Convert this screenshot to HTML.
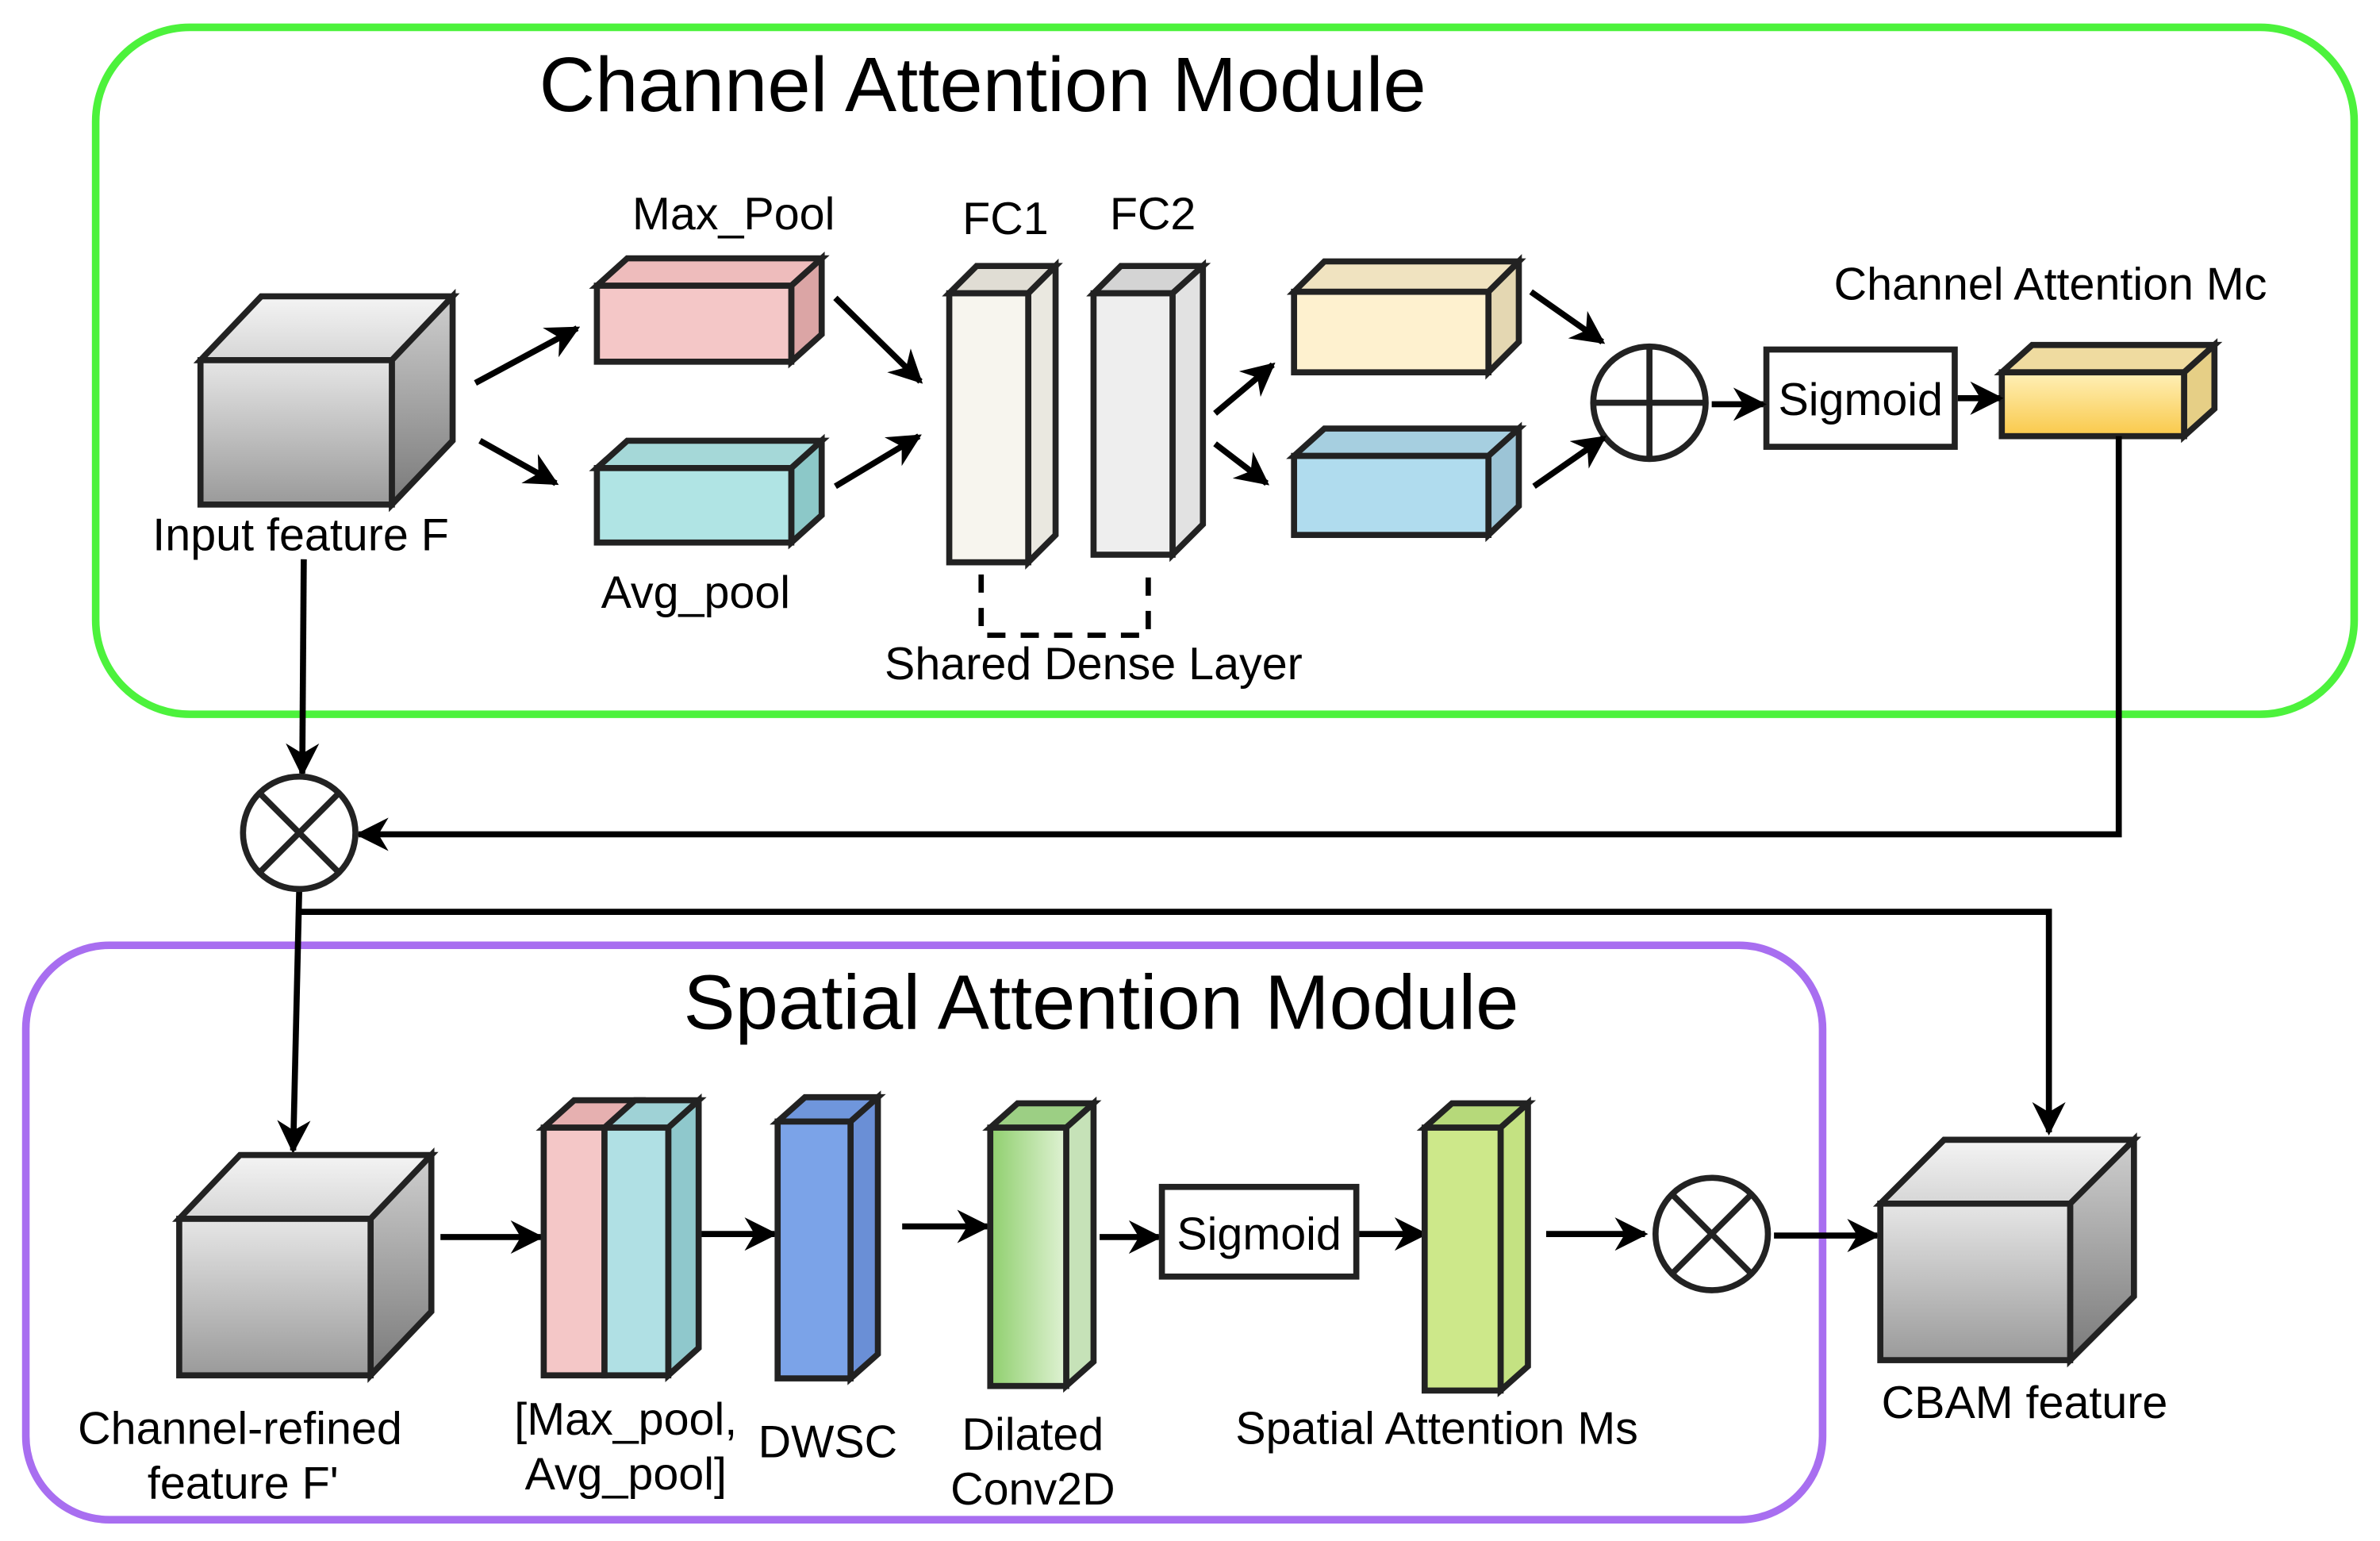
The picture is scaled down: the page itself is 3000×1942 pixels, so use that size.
<!DOCTYPE html>
<html><head><meta charset="utf-8"><style>html,body{margin:0;padding:0;background:#fff}svg{display:block}text{font-family:"Liberation Sans",sans-serif;fill:#000}</style></head>
<body>
<svg width="3000" height="1942" viewBox="0 0 1567 1014" preserveAspectRatio="none" xmlns="http://www.w3.org/2000/svg">
<defs>
<marker id="b" viewBox="0 0 10 10" refX="9" refY="5" markerWidth="22" markerHeight="22" orient="auto" markerUnits="userSpaceOnUse"><path d="M0,0 L10,5 L0,10 L3,5 Z" fill="#000"/></marker>
<linearGradient id="g" x1="0" y1="0" x2="0" y2="1"><stop offset="0" stop-color="#e6e6e6"/><stop offset="1" stop-color="#9a9a9a"/></linearGradient>
<linearGradient id="gs" x1="0" y1="0" x2="0" y2="1"><stop offset="0" stop-color="#cfcfcf"/><stop offset="1" stop-color="#7a7a7a"/></linearGradient>
<linearGradient id="gt" x1="0" y1="0" x2="0" y2="1"><stop offset="0" stop-color="#f4f4f4"/><stop offset="1" stop-color="#d6d6d6"/></linearGradient>
<linearGradient id="gy" x1="0" y1="0" x2="0" y2="1"><stop offset="0" stop-color="#fff0b8"/><stop offset="1" stop-color="#f9c94a"/></linearGradient>
<linearGradient id="gg" x1="0" y1="0" x2="1" y2="0"><stop offset="0" stop-color="#8fcf6d"/><stop offset="1" stop-color="#e0f2d4"/></linearGradient>
</defs>
<g stroke="#222" stroke-width="4" stroke-linejoin="miter">
<rect x="63" y="18" width="1487" height="452" rx="62" fill="none" stroke="#4cf23c" stroke-width="5"/>
<rect x="17" y="622" width="1183" height="378" rx="55" fill="none" stroke="#a86ef0" stroke-width="5"/>

<polygon points="132,237 172,195 298,195 258,237" fill="url(#gt)"/>
<polygon points="258,237 298,195 298,290 258,332" fill="url(#gs)"/>
<rect x="132" y="237" width="126" height="95" fill="url(#g)"/>
<polygon points="393,188 413,170 541,170 521,188" fill="#eebcbc"/>
<polygon points="521,188 541,170 541,220 521,238" fill="#dba5a5"/>
<rect x="393" y="188" width="128" height="50" fill="#f4c7c7"/>
<polygon points="393,308 413,290 541,290 521,308" fill="#a5d8d8"/>
<polygon points="521,308 541,290 541,339 521,357" fill="#8cc8c8"/>
<rect x="393" y="308" width="128" height="49" fill="#b0e4e4"/>
<polygon points="625,193 643,175 695,175 677,193" fill="#e0ddd4"/>
<polygon points="677,193 695,175 695,352 677,370" fill="#eae8e0"/>
<rect x="625" y="193" width="52" height="177" fill="#f7f5ee"/>
<polygon points="720,193 738,175 792,175 772,193" fill="#d4d4d4"/>
<polygon points="772,193 792,175 792,345 772,365" fill="#e2e2e2"/>
<rect x="720" y="193" width="52" height="172" fill="#eeeeee"/>
<polygon points="852,192 872,172 1000,172 980,192" fill="#f0e3c0"/>
<polygon points="980,192 1000,172 1000,225 980,245" fill="#e4d7b2"/>
<rect x="852" y="192" width="128" height="53" fill="#fef1cf"/>
<polygon points="852,300 872,282 1000,282 980,300" fill="#a6cfe0"/>
<polygon points="980,300 1000,282 1000,333 980,352" fill="#9cc4d6"/>
<rect x="852" y="300" width="128" height="52" fill="#b0dcee"/>
<polygon points="1318,245 1338,227 1458,227 1438,245" fill="#efdba0"/>
<polygon points="1438,245 1458,227 1458,269 1438,287" fill="#e6cf86"/>
<rect x="1318" y="245" width="120" height="42" fill="url(#gy)"/>
<circle cx="1086" cy="265" r="37" fill="#fff"/>
<line x1="1049" y1="265" x2="1123" y2="265"/><line x1="1086" y1="228" x2="1086" y2="302"/>
<rect x="1163" y="230" width="124" height="64" fill="#fff"/>
<path d="M646,378 V418 H756 V370" fill="none" stroke="#000" stroke-width="3.5" stroke-dasharray="12,10"/>

<g stroke="#000" stroke-width="4" fill="none" marker-end="url(#b)">
<line x1="313" y1="252" x2="380" y2="216"/>
<line x1="316" y1="290" x2="366" y2="318"/>
<line x1="550" y1="196" x2="606" y2="251"/>
<line x1="550" y1="320" x2="605" y2="287"/>
<line x1="800" y1="272" x2="838" y2="240"/>
<line x1="800" y1="292" x2="834" y2="318"/>
<line x1="1008" y1="192" x2="1055" y2="225"/>
<line x1="1010" y1="320" x2="1056" y2="288"/>
<line x1="1127" y1="266" x2="1161" y2="266"/>
<line x1="1289" y1="262" x2="1317" y2="262"/>
<line x1="200" y1="368" x2="199" y2="509"/>
<polyline points="1395,287 1395,549 236,549"/>
<line x1="197" y1="586" x2="193" y2="757"/>
<polyline points="197,600 1349,600 1349,745"/>
<line x1="290" y1="814" x2="356" y2="814"/>
<line x1="452" y1="812" x2="510" y2="812"/>
<line x1="594" y1="807" x2="650" y2="807"/>
<line x1="724" y1="814" x2="763" y2="814"/>
<line x1="895" y1="812" x2="938" y2="812"/>
<line x1="1018" y1="812" x2="1083" y2="812"/>
<line x1="1168" y1="813" x2="1236" y2="813"/>
</g>
<circle cx="197" cy="548" r="37" fill="#fff"/>
<line x1="171" y1="522" x2="223" y2="574"/><line x1="223" y1="522" x2="171" y2="574"/>

<polygon points="118,802 158,760 284,760 244,802" fill="url(#gt)"/>
<polygon points="244,802 284,760 284,863 244,905" fill="url(#gs)"/>
<rect x="118" y="802" width="126" height="103" fill="url(#g)"/>
<polygon points="358,742 378,724 420,724 400,742" fill="#e6b0b0"/>
<polygon points="398,742 418,724 460,724 440,742" fill="#9fd2d6"/>
<polygon points="440,742 460,724 460,887 440,905" fill="#8fc8cc"/>
<rect x="358" y="742" width="40" height="163" fill="#f4c7c7"/>
<rect x="398" y="742" width="42" height="163" fill="#b0e0e4"/>
<polygon points="512,738 530,722 578,722 560,738" fill="#6f96dc"/>
<polygon points="560,738 578,722 578,891 560,907" fill="#6a8fd6"/>
<rect x="512" y="738" width="48" height="169" fill="#7ba3e8"/>
<polygon points="652,742 670,726 720,726 702,742" fill="#9ccf84"/>
<polygon points="702,742 720,726 720,896 702,912" fill="#c6e2b8"/>
<rect x="652" y="742" width="50" height="170" fill="url(#gg)"/>
<rect x="765" y="781" width="128" height="59" fill="#fff"/>
<polygon points="938,742 956,726 1006,726 988,742" fill="#b6d97a"/>
<polygon points="988,742 1006,726 1006,899 988,915" fill="#c4e282"/>
<rect x="938" y="742" width="50" height="173" fill="#cde88a"/>
<circle cx="1127" cy="812" r="37" fill="#fff"/>
<line x1="1101" y1="786" x2="1153" y2="838"/><line x1="1153" y1="786" x2="1101" y2="838"/>
<polygon points="1238,792 1280,750 1405,750 1363,792" fill="url(#gt)"/>
<polygon points="1363,792 1405,750 1405,853 1363,895" fill="url(#gs)"/>
<rect x="1238" y="792" width="125" height="103" fill="url(#g)"/>
</g>

<g stroke="none">
<text x="647" y="73" font-size="51" text-anchor="middle">Channel Attention Module</text>
<text x="725" y="677" font-size="51" text-anchor="middle">Spatial Attention Module</text>
<text x="483" y="151" font-size="30" text-anchor="middle">Max_Pool</text>
<text x="458" y="400" font-size="30" text-anchor="middle">Avg_pool</text>
<text x="662" y="154" font-size="30" text-anchor="middle">FC1</text>
<text x="759" y="151" font-size="30" text-anchor="middle">FC2</text>
<text x="720" y="447" font-size="30" text-anchor="middle">Shared Dense Layer</text>
<text x="1350" y="197" font-size="30" text-anchor="middle">Channel Attention Mc</text>
<text x="198" y="362" font-size="30" text-anchor="middle">Input feature F</text>
<text x="1225" y="273" font-size="30" text-anchor="middle">Sigmoid</text>
<text x="829" y="822" font-size="30" text-anchor="middle">Sigmoid</text>
<text x="158" y="950" font-size="30" text-anchor="middle">Channel-refined</text>
<text x="160" y="986" font-size="30" text-anchor="middle">feature F'</text>
<text x="412" y="944" font-size="30" text-anchor="middle">[Max_pool,</text>
<text x="412" y="980" font-size="30" text-anchor="middle">Avg_pool]</text>
<text x="545" y="959" font-size="30" text-anchor="middle">DWSC</text>
<text x="680" y="954" font-size="30" text-anchor="middle">Dilated</text>
<text x="680" y="990" font-size="30" text-anchor="middle">Conv2D</text>
<text x="946" y="950" font-size="30" text-anchor="middle">Spatial Attention Ms</text>
<text x="1333" y="933" font-size="30" text-anchor="middle">CBAM feature</text>
</g>
</svg>
</body></html>
